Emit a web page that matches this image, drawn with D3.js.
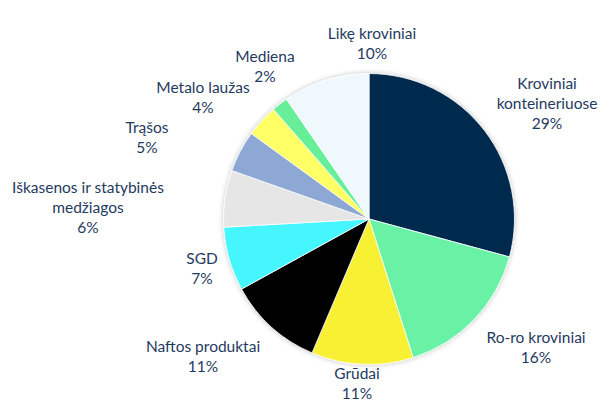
<!DOCTYPE html>
<html><head><meta charset="utf-8">
<script src="https://cdn.jsdelivr.net/npm/d3@7"></script>
<style>html,body{margin:0;padding:0;background:#fff;}</style>
</head><body>
<svg id="chart" width="615" height="415"></svg>
<script>
const categories = ["Kroviniai konteineriuose","Ro-ro kroviniai","Grūdai","Naftos produktai","SGD","Iškasenos ir statybinės medžiagos","Trąšos","Metalo laužas","Mediena","Likę kroviniai"];
const values = [29.2, 15.9, 11.3, 10.6, 7.1, 6.3, 4.6, 3.6, 1.8, 9.6];
const colors = ["#002b4e","#69f2a5","#f8f032","#000000","#44f6ff","#e6e6e6","#8da8d5","#ffff66","#66ee99","#eef8fd"];
// label text lines (as shown on the chart)
const labelLines = [["Kroviniai","konteineriuose"],["Ro-ro kroviniai"],["Grūdai"],["Naftos produktai"],["SGD"],["Iškasenos ir statybinės","medžiagos"],["Trąšos"],["Metalo laužas"],["Mediena"],["Likę kroviniai"]];
// layout: label centres (first line) relative to page
const labelPos = [[547,83],[536,337],[357,373],[203,346],[202,258],[88,187],[147,127],[203,87],[265,56],[372,33]];

const svg = d3.select("#chart");
const cx = 369, cy = 219, r = 145.5;
const defs = svg.append("defs");
const f = defs.append("filter").attr("id","sh").attr("x","-20%").attr("y","-20%").attr("width","140%").attr("height","140%");
f.append("feDropShadow").attr("dx",0).attr("dy",0).attr("stdDeviation",2.5).attr("flood-color","#000").attr("flood-opacity",0.25);

const pie = d3.pie().sort(null).value(d=>d)(values);
const arc = d3.arc().innerRadius(0).outerRadius(r);
const g = svg.append("g").attr("transform",`translate(${cx},${cy})`);
g.append("g").attr("filter","url(#sh)")
 .selectAll("path").data(pie).join("path")
 .attr("d",arc).attr("fill",(d,i)=>colors[i])
 .attr("stroke","#fff").attr("stroke-width",0.8);

const total = d3.sum(values);
const lab = svg.append("g").attr("font-family","Lato, 'Open Sans', sans-serif").attr("font-size",15.5).attr("fill","#1f3a60").attr("text-anchor","middle");
categories.forEach((c,i)=>{
  const lines = labelLines[i].concat([Math.round(values[i]/total*100)+"%"]);
  const t = lab.append("text").attr("x",labelPos[i][0]).attr("y",labelPos[i][1]).attr("dominant-baseline","central");
  lines.forEach((l,j)=>t.append("tspan").attr("x",labelPos[i][0]).attr("dy",j===0?0:20).text(l));
});
</script>
</body></html>
